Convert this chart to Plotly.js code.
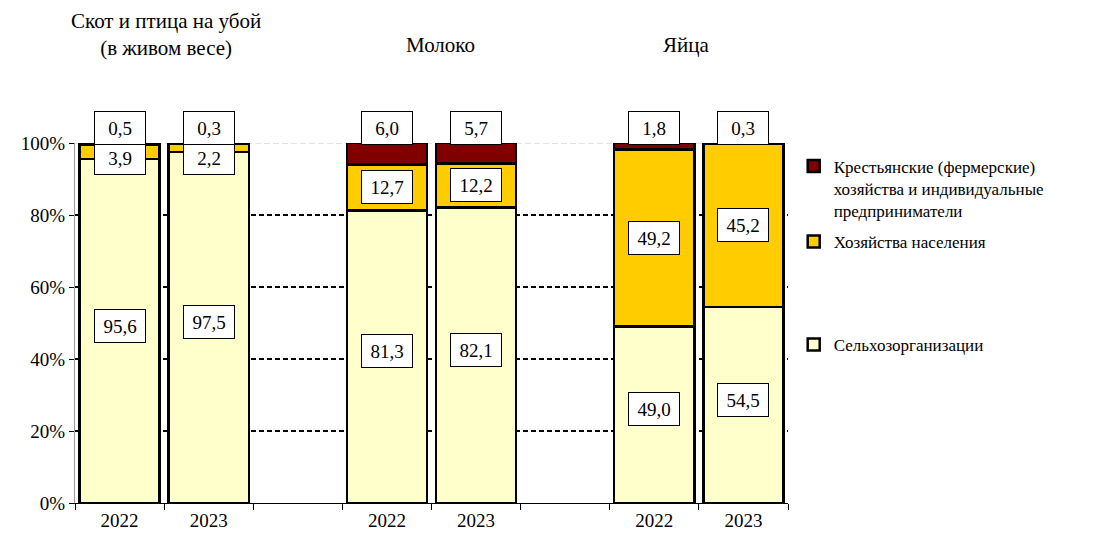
<!DOCTYPE html>
<html>
<head>
<meta charset="utf-8">
<script src="https://cdn.plot.ly/plotly-3.0.1.min.js"></script>
<style>html,body{margin:0;padding:0;background:#fff;font-family:"Liberation Serif",serif;}#chart{width:1113px;height:536px;}</style>
</head>
<body>
<div id="chart"></div>
<script>
// ---- data ----
var groups = ['Скот и птица на убой<br>(в живом весе)', 'Молоко', 'Яйца'];
var years = ['2022', '2023'];
var seriesNames = ['Сельхозорганизации', 'Хозяйства населения', 'Крестьянские (фермерские)<br>хозяйства и индивидуальные<br>предприниматели'];
var selkhoz   = [95.6, 97.5, 81.3, 82.1, 49.0, 54.5];
var naselenie = [3.9, 2.2, 12.7, 12.2, 49.2, 45.2];
var kfh       = [0.5, 0.3, 6.0, 5.7, 1.8, 0.3];
var yTicks = [0, 20, 40, 60, 80, 100];

// ---- build ----
var SERIF = 'Times New Roman, Liberation Serif, Tinos, DejaVu Serif, serif';
var xs = [], xlab = [];
groups.forEach(function (g, gi) {
  years.forEach(function (y, yi) { xs.push(gi * 3 + yi); xlab.push(y); });
});
var colors = ['#FFFFCC', '#FFCC00', '#800000'];
var vals = [selkhoz, naselenie, kfh];
var legendIds = ['legend3', 'legend2', 'legend'];
var traces = vals.map(function (v, i) {
  return {
    type: 'bar', x: xs, y: v, name: seriesNames[i], width: 0.9,
    marker: {color: colors[i], line: {color: '#000', width: 2.5}},
    legend: legendIds[i], hoverinfo: 'skip'
  };
});
function fmt(v) { return v.toFixed(1).replace('.', ','); }
var ann = [];
var boxStyle = {showarrow: false, bgcolor: '#fff', bordercolor: '#000', borderwidth: 1, borderpad: 3,
  width: 44, height: 26, xanchor: 'center', yanchor: 'middle',
  font: {family: SERIF, size: 19, color: '#000'}, xref: 'x', yref: 'paper'};
xs.forEach(function (x, i) {
  ann.push(Object.assign({}, boxStyle, {x: x, y: (selkhoz[i] / 2 + 1.5) / 100, text: fmt(selkhoz[i])}));
  ann.push(Object.assign({}, boxStyle, {x: x, y: Math.min(selkhoz[i] + naselenie[i] / 2, 95.8) / 100, text: fmt(naselenie[i])}));
  ann.push(Object.assign({}, boxStyle, {x: x, y: 1.042, text: fmt(kfh[i])}));
});
var titleX = [0.128, 0.513, 0.857];
var titleY = [1.301, 1.272, 1.272];
groups.forEach(function (g, gi) {
  ann.push({xref: 'paper', yref: 'paper', x: titleX[gi], y: titleY[gi], xanchor: 'center', yanchor: 'middle',
    text: g, showarrow: false, font: {family: SERIF, size: 21, color: '#000'}});
});
var legFont = {family: SERIF, size: 17, color: '#000'};
function leg(y) { return {x: 1.008, y: y, xanchor: 'left', yanchor: 'top', font: legFont, bgcolor: 'rgba(0,0,0,0)', valign: 'top', itemwidth: 30}; }

var layout = {
  width: 1113, height: 536,
  margin: {l: 75, r: 325, t: 143, b: 33},
  paper_bgcolor: '#fff', plot_bgcolor: '#fff',
  barmode: 'stack', showlegend: true,
  font: {family: SERIF, size: 19, color: '#000'},
  xaxis: {
    range: [-0.5, 7.5], tickvals: xs, ticktext: xlab, ticks: '', showgrid: false, zeroline: false,
    showline: true, linecolor: '#000', linewidth: 1, tickfont: {family: SERIF, size: 19},
    minor: {tick0: -0.5, dtick: 1, ticks: 'outside', ticklen: 6, tickcolor: '#000', tickwidth: 1, showgrid: false}
  },
  yaxis: {
    range: [0, 100], tickvals: yTicks, ticktext: yTicks.map(function (t) { return t + '%'; }),
    ticks: 'outside', ticklen: 5, tickcolor: '#000', showline: true, linecolor: '#999', linewidth: 1,
    showgrid: true, gridcolor: '#000', gridwidth: 2, griddash: '5px,3px', zeroline: false,
    tickfont: {family: SERIF, size: 19}
  },
  shapes: [
    {type: 'line', xref: 'paper', yref: 'y', x0: 0, x1: 1, y0: 100, y1: 100, layer: 'between', line: {color: '#fff', width: 3}},
    {type: 'line', xref: 'paper', yref: 'y', x0: 0, x1: 1, y0: 100, y1: 100, layer: 'between', line: {color: '#c8c8c8', width: 1, dash: '6px,3px'}}
  ],
  annotations: ann,
  legend: leg(0.985),
  legend2: leg(0.775),
  legend3: leg(0.489)
};
Plotly.newPlot('chart', traces, layout, {displayModeBar: false, staticPlot: true});
</script>
</body>
</html>
